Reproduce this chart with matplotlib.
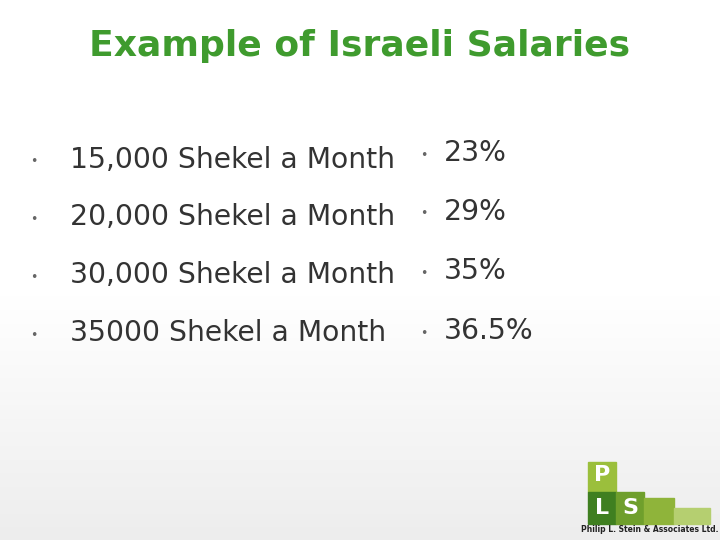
import matplotlib
matplotlib.use('Agg')
import matplotlib.pyplot as plt
import numpy as np
from matplotlib.patches import Rectangle

plt.rcParams['font.family'] = ['DejaVu Sans']

title = 'Example of Israeli Salaries'
left_items = ['15,000 Shekel a Month', '20,000 Shekel a Month',
              '30,000 Shekel a Month', '35000 Shekel a Month']
right_items = ['23%', '29%', '35%', '36.5%']
left_y = [160, 217, 275, 333]
right_y = [153, 212, 271, 331]

fig = plt.figure(figsize=(7.2, 5.4), dpi=100)
ax = fig.add_axes([0, 0, 1, 1])
ax.set_xlim(0, 720)
ax.set_ylim(540, 0)
ax.axis('off')

# soft gradient background: white to light grey at the bottom
grad = np.linspace(0, 1, 256)[:, None]
grad = np.clip((grad - 0.55) / 0.45, 0, 1)
bg = 1 - 0.07 * grad
ax.imshow(np.dstack([bg, bg, bg]), extent=[0, 720, 540, 0], aspect='auto', zorder=0)

ax.text(360, 46, title, ha='center', va='center', fontsize=26,
        fontweight='bold', color='#3f9b2e')

txt = '#333333'
for s, y in zip(left_items, left_y):
    ax.text(30, y + 2, '•', ha='left', va='center', fontsize=9, color='#666666')
    ax.text(70, y, s, ha='left', va='center', fontsize=20.3, color=txt)
for s, y in zip(right_items, right_y):
    ax.text(420, y + 2, '•', ha='left', va='center', fontsize=9, color='#666666')
    ax.text(444, y, s, ha='left', va='center', fontsize=20.3, color=txt)

# logo
ax.add_patch(Rectangle((588, 462), 28, 30, color='#9bbf3c', zorder=2))
ax.add_patch(Rectangle((588, 492), 28, 32, color='#3f7f20', zorder=2))
ax.add_patch(Rectangle((616, 492), 28, 32, color='#6f9f2c', zorder=2))
ax.add_patch(Rectangle((644, 498), 30, 26, color='#8fb43a', zorder=2))
ax.add_patch(Rectangle((674, 508), 36, 16, color='#b5cf70', zorder=2))
for (x, y, c) in [(602, 475, 'P'), (602, 508, 'L'), (630, 508, 'S')]:
    ax.text(x, y, c, ha='center', va='center', fontsize=16, color='white',
            fontweight='bold', zorder=3)
ax.text(650, 530, 'Philip L. Stein & Associates Ltd.', ha='center', va='center',
        fontsize=5.5, color='#222222', fontweight='bold', zorder=3)

fig.savefig('out.png', dpi=100)
